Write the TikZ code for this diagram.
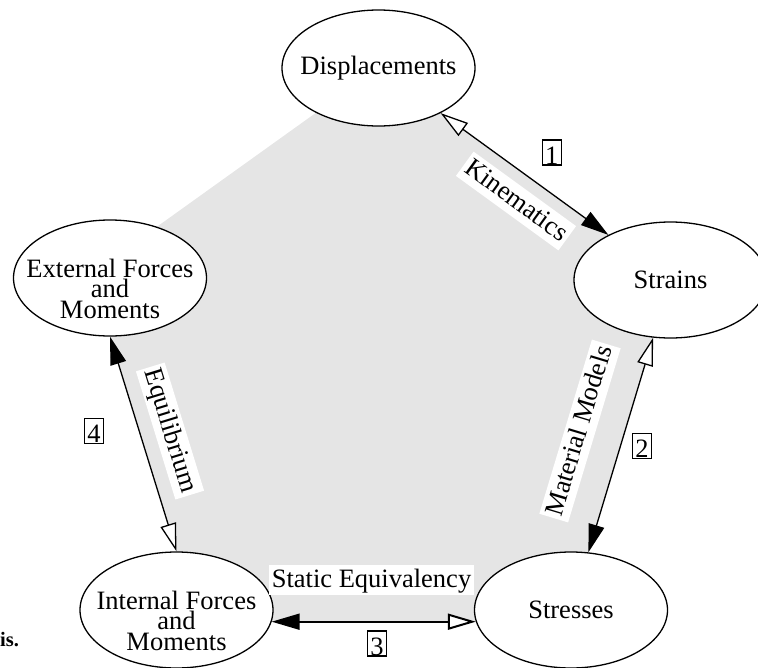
\documentclass[tikz,border=0pt]{standalone}
\usepackage{fontspec}
\setmainfont{Liberation Serif}
\usetikzlibrary{arrows.meta,shapes.geometric}
\newcommand{\zone}[1]{\makebox[0pt]{#1}}
\newcommand{\zthree}[1]{\makebox[0pt]{\parbox[t]{300pt}{\centering #1}}}
\tikzset{
  FTip/.tip={Triangle[length=28pt,width=16pt]},
  OTip/.tip={Triangle[length=28pt,width=16pt,open,fill=white]}
}
\begin{document}
\begin{tikzpicture}[x=1pt,y=-1pt,
  bub/.style={ellipse, draw, line width=1.3pt, fill=white,
    minimum width=193pt, minimum height=116pt, inner sep=0pt,
    font=\fontsize{26.5}{20.5}\selectfont},
  bubthree/.style={bub, text height=20pt, text depth=22pt},
  conn/.style={line width=1.3pt},
  lab/.style={fill=white, font=\fontsize{26.5}{20.5}\selectfont,
    inner xsep=3pt, inner ysep=1pt, text height=21pt, text depth=7pt},
  num/.style={draw, line width=1.1pt, font=\fontsize{26.5}{20.5}\selectfont,
    inner xsep=3pt, inner ysep=0pt, text height=24pt, text depth=1pt}
]
\clip (0,0) rectangle (758,667);
% grey pentagon
\fill[gray!20] (378.5,68) -- (670.5,280) -- (567.4,622) -- (198,622) -- (91,274) -- cycle;
% ellipses
\node[bub] (disp) at (378.5,68) {\zone{Displacements}};
\node[bub] (strains) at (670.5,280) {\zone{Strains}};
\node[bub] (stresses) at (571,610) {\zone{Stresses}};
\node[bubthree] (int) at (176.5,610) {\zthree{Internal Forces\\and\\Moments}};
\node[bubthree] (ext) at (110,278) {\zthree{External Forces\\and\\Moments}};
% connectors
\draw[conn, OTip-FTip] (disp) -- (strains);
\draw[conn, OTip-FTip] (strains) -- (stresses);
\draw[conn, line width=2pt, FTip-OTip] (int.-7.24) -- (stresses.187.24);
\draw[conn, FTip-OTip] (ext.south) -- (int.north);
% labels
\node[lab, rotate=-36] (lkin) at (516,201) {Kinematics};
\node[lab, rotate=73.2] (lmat) at (580,431) {Material Models};
\node[lab, rotate=-72.9] (lequ) at (170,431) {Equilibrium};
\node[lab] (lsta) at (371.5,580) {Static Equivalency};
% numbers
\node[num] (n1) at (551.7,152.5) {1};
\node[num] (n2) at (642,446) {2};
\node[num] (n3) at (377,643.5) {3};
\node[num] (n4) at (94,431) {4};
% caption fragment
\node[anchor=base west, inner sep=0pt, font=\fontsize{20.5}{24}\selectfont\bfseries] (isfrag) at (0,646) {is.};
\end{tikzpicture}
\end{document}
